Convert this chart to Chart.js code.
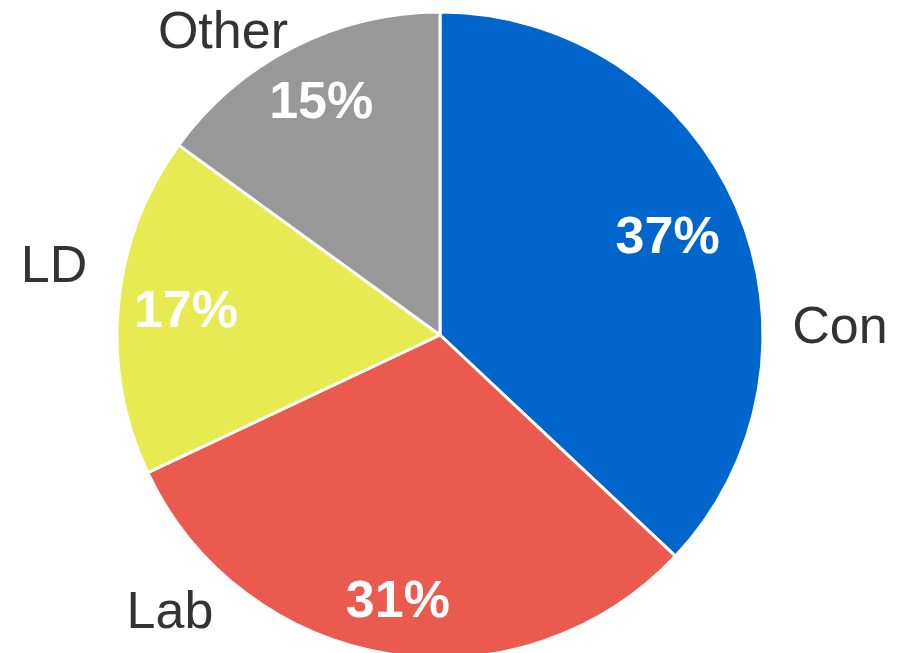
<!DOCTYPE html>
<html>
<head>
<meta charset="utf-8">
<script src="https://cdn.jsdelivr.net/npm/chart.js@4/dist/chart.umd.min.js"></script>
<style>
    html, body { margin: 0; padding: 0; background: #fff; overflow: hidden; }
    #wrap { width: 904px; height: 653px; position: relative; }
</style>
</head>
<body>
<div id="wrap"><canvas id="myChart"></canvas></div>
<script>
var partidos = ['Con', 'Lab', 'LD', 'Other'];
var porcentajes = [37, 31, 17, 15];
var colores = ['#0066cc', '#eb5a4e', '#e8ea52', '#989898'];

// donde van los nombres, en unidades del radio respecto al centro
var posNombres = [[1.238, -0.025], [-0.836, 0.858], [-1.195, -0.215], [-0.672, -0.938]];
// distancia del porcentaje al centro (fraccion del radio)
var distPorc = [0.768, 0.833, 0.79, 0.81];

var etiquetas = {
    id: 'etiquetas',
    afterDatasetsDraw: function (chart) {
        var ctx = chart.ctx;
        var meta = chart.getDatasetMeta(0);
        ctx.save();
        ctx.textAlign = 'center';
        ctx.textBaseline = 'middle';
        meta.data.forEach(function (arc, i) {
            var p = arc.getProps(['x', 'y', 'startAngle', 'endAngle', 'outerRadius'], true);
            var mid = (p.startAngle + p.endAngle) / 2;
            var r = p.outerRadius * distPorc[i];
            ctx.fillStyle = '#ffffff';
            ctx.font = 'bold 52px "Liberation Sans", Arial, sans-serif';
            ctx.fillText(porcentajes[i] + '%', p.x + Math.cos(mid) * r, p.y + Math.sin(mid) * r + 2);

            ctx.fillStyle = '#333333';
            ctx.font = '52px "Liberation Sans", Arial, sans-serif';
            ctx.fillText(partidos[i], p.x + posNombres[i][0] * p.outerRadius, p.y + posNombres[i][1] * p.outerRadius + 2);
        });
        ctx.restore();
    }
};

var ctx = document.getElementById('myChart').getContext('2d');
var chart = new Chart(ctx, {
    type: 'pie',
    data: {
        labels: partidos,
        datasets: [{
            data: porcentajes,
            backgroundColor: colores,
            borderColor: '#ffffff',
            borderWidth: 3,
            clip: false
        }]
    },
    options: {
        responsive: true,
        maintainAspectRatio: false,
        animation: false,
        radius: 323,
        layout: { padding: { top: 17, bottom: 0, left: 0, right: 24 } },
        plugins: {
            legend: { display: false },
            tooltip: { enabled: false }
        }
    },
    plugins: [etiquetas]
});
</script>
</body>
</html>
